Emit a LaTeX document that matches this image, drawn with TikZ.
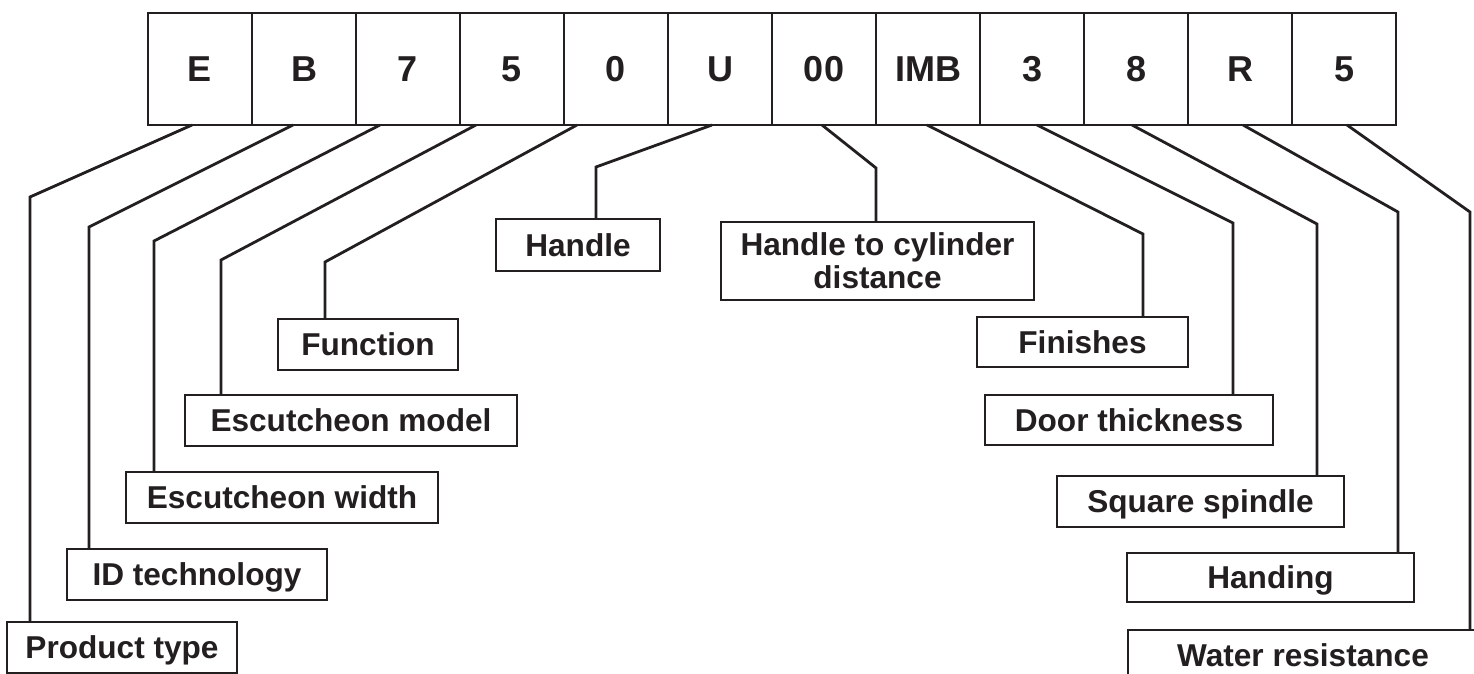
\documentclass[tikz,border=0pt]{standalone}
\usepackage{fontspec}
\setmainfont{Liberation Sans}
\definecolor{ink}{HTML}{231F20}
\begin{document}
\begin{tikzpicture}[x=1pt,y=-1pt, line width=2.8pt, color=ink,
  cell/.style={draw, anchor=north west, outer sep=0pt, inner sep=0pt,
    minimum width=104pt, minimum height=112pt,
    font=\fontsize{36}{40}\selectfont\bfseries, text height=25.8pt, text depth=0pt},
  lab/.style={draw, anchor=north west, outer sep=0pt, inner sep=0pt,
    font=\fontsize{31.6}{33}\selectfont\bfseries, text height=22.6pt, text depth=0pt},
  conn/.style={line join=miter}]
\clip (0,0) rectangle (1474,674);
\fill[white] (0,0) rectangle (1474,674);

% code cells
\foreach \t [count=\i from 0] in {E,B,7,5,0,U,00,IMB,3,8,R,5}
  \node[cell] (c\i) at ({148+104*\i},13) {\t};

% labels
\node[lab, minimum width=230pt, minimum height=51pt] (pt) at (7,622) {Product type};
\node[lab, minimum width=260pt, minimum height=51pt] (id) at (67,549) {ID technology};
\node[lab, minimum width=312pt, minimum height=51pt] (ew) at (126,472) {Escutcheon width};
\node[lab, minimum width=332pt, minimum height=51pt] (em) at (185,395) {Escutcheon model};
\node[lab, minimum width=180pt, minimum height=51pt] (fn) at (278,319) {Function};
\node[lab, minimum width=164pt, minimum height=52pt] (hd) at (496,219) {Handle};
\node[lab, align=center, minimum width=313pt, minimum height=78pt, text height=55.6pt, text depth=0pt] (hc) at (721,222) {Handle to cylinder\\distance};
\node[lab, minimum width=211pt, minimum height=50pt] (fi) at (977,317) {Finishes};
\node[lab, minimum width=288pt, minimum height=50pt] (dt) at (985,395) {Door thickness};
\node[lab, minimum width=287pt, minimum height=51pt] (sq) at (1057,476) {Square spindle};
\node[lab, minimum width=287pt, minimum height=49pt] (ha) at (1127,553) {Handing};
\node[lab, minimum width=350pt, minimum height=51pt] (wr) at (1128,630) {Water resistance};

% bend points
\coordinate (k0) at (30,197);
\coordinate (k1) at (89,227);
\coordinate (k2) at (154,241);
\coordinate (k3) at (221,260);
\coordinate (k4) at (325,262);
\coordinate (k5) at (596,167);
\coordinate (k6) at (876,168);
\coordinate (k7) at (1143,234);
\coordinate (k8) at (1233,223);
\coordinate (k9) at (1317,224);
\coordinate (k10) at (1398,212);
\coordinate (k11) at (1470,212);

% connectors
\draw[conn] ([xshift=-8pt]c0.south) -- (k0) -- (k0 |- pt.north);
\draw[conn] ([xshift=-11pt]c1.south) -- (k1) -- (k1 |- id.north);
\draw[conn] ([xshift=-28pt]c2.south) -- (k2) -- (k2 |- ew.north);
\draw[conn] ([xshift=-36pt]c3.south) -- (k3) -- (k3 |- em.north);
\draw[conn] ([xshift=-39pt]c4.south) -- (k4) -- (k4 |- fn.north);
\draw[conn] ([xshift=-8pt]c5.south) -- (k5) -- (k5 |- hd.north);
\draw[conn] ([xshift=-2pt]c6.south) -- (k6) -- (k6 |- hc.north);
\draw[conn] ([xshift=-1pt]c7.south) -- (k7) -- (k7 |- fi.north);
\draw[conn] ([xshift=5pt]c8.south) -- (k8) -- (k8 |- dt.north);
\draw[conn] ([xshift=-4pt]c9.south) -- (k9) -- (k9 |- sq.north);
\draw[conn] ([xshift=3pt]c10.south) -- (k10) -- (k10 |- ha.north);
\draw[conn] ([xshift=3pt]c11.south) -- (k11) -- (k11 |- wr.north);
\end{tikzpicture}
\end{document}
